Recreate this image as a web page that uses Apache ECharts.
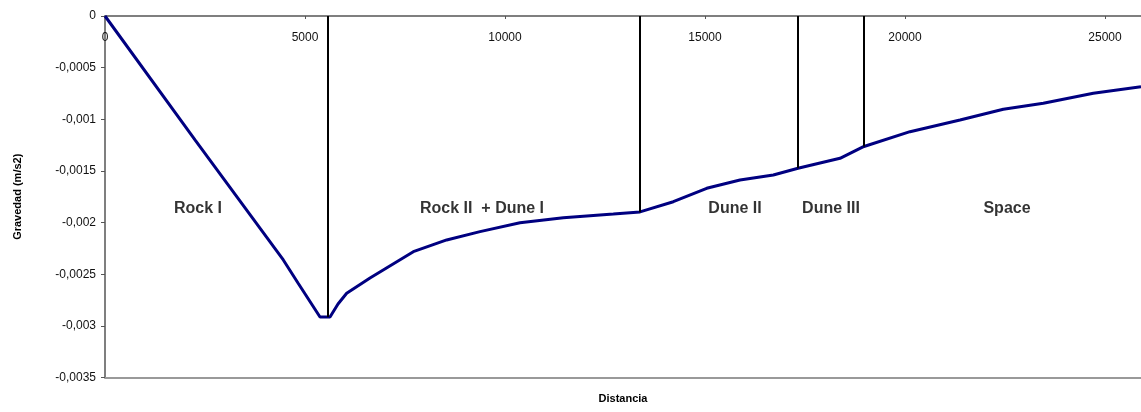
<!DOCTYPE html>
<html>
<head>
<meta charset="utf-8">
<script src="https://cdn.jsdelivr.net/npm/echarts@6/dist/echarts.min.js"></script>
<style>
  html, body { margin: 0; padding: 0; background: #fff; }
  #chart { width: 1141px; height: 412px; }
</style>
</head>
<body>
<div id="chart"></div>
<script>
// profile
const distX = [0, 2250, 4458, 4825, 5375, 5625, 5825, 6042, 6625, 7708, 8542, 9375, 10375, 11458, 12708, 13375,
  14208, 15042, 15875, 16708, 17325, 18375, 18975, 20125, 21375, 22458, 23458, 24708, 25900];
const gravY = [0, -0.0012, -0.002362, -0.002585, -0.002914, -0.002914, -0.002788, -0.002684, -0.002536, -0.002282,
  -0.002168, -0.002088, -0.002001, -0.001953, -0.001917, -0.001897, -0.001798, -0.001668, -0.001588, -0.001539,
  -0.001474, -0.001378, -0.001263, -0.00112, -0.001007, -0.000903, -0.000845, -0.000748, -0.000684];

// zone boundaries (vertical lines from top down to the curve)
const boundX = [5560, 13375, 17325, 18975];
const boundY = [-0.002914, -0.0019, -0.001474, -0.001263];

// zone names
const zoneNames = ['Rock I', 'Rock II  + Dune I', 'Dune II', 'Dune III', 'Space'];
const zoneX = [2325, 9425, 15750, 18150, 22550];
const zoneY = -0.00186;

const chart = echarts.init(document.getElementById('chart'), null, { renderer: 'canvas' });

const fmt = v => String(v).replace('.', ',');
const font = 'Liberation Sans, Arial';

chart.setOption({
  backgroundColor: '#fff',
  animation: false,
  grid: { left: 105, top: 16, right: 0, bottom: 34.5 },
  xAxis: [
    {
      type: 'value',
      position: 'top',
      min: 0,
      max: 25900,
      interval: 5000,
      axisLine: { lineStyle: { color: '#555', width: 1.5 } },
      axisTick: { inside: true, length: 3, lineStyle: { color: '#555' } },
      axisLabel: { inside: true, margin: 16, color: '#111', fontFamily: font, fontSize: 12,
        showMaxLabel: false, formatter: v => String(v) },
      splitLine: { show: false }
    },
    {
      type: 'value',
      position: 'bottom',
      min: 0,
      max: 25900,
      name: 'Distancia',
      nameLocation: 'middle',
      nameGap: 16,
      nameTextStyle: { color: '#000', fontWeight: 'bold', fontSize: 11, fontFamily: font },
      axisLine: { lineStyle: { color: '#999', width: 2 } },
      axisTick: { show: false },
      axisLabel: { show: false },
      splitLine: { show: false }
    }
  ],
  yAxis: {
    type: 'value',
    min: -0.0035,
    max: 0,
    interval: 0.0005,
    name: 'Gravedad (m/s2)',
    nameLocation: 'middle',
    nameGap: 82,
    nameTextStyle: { color: '#000', fontWeight: 'bold', fontSize: 11, fontFamily: font },
    axisLine: { show: true, lineStyle: { color: '#555', width: 1.5 } },
    axisTick: { show: true, length: 4, lineStyle: { color: '#555' } },
    axisLabel: { color: '#111', fontSize: 12, fontFamily: font, margin: 9, formatter: fmt },
    splitLine: { show: false }
  },
  series: [
    {
      type: 'line',
      data: distX.map((x, i) => [x, gravY[i]]),
      showSymbol: false,
      lineStyle: { color: '#000080', width: 3 },
      z: 3,
      markLine: {
        silent: true,
        symbol: 'none',
        label: { show: false },
        lineStyle: { color: '#000', width: 2, type: 'solid' },
        data: boundX.map((x, i) => [{ coord: [x, 0] }, { coord: [x, boundY[i]] }])
      }
    },
    {
      type: 'scatter',
      silent: true,
      symbolSize: 1,
      itemStyle: { color: 'rgba(0,0,0,0)' },
      data: zoneNames.map((n, i) => ({ name: n, value: [zoneX[i], zoneY] })),
      label: {
        show: true,
        position: 'inside',
        formatter: p => p.name,
        color: '#000',
        fontSize: 16,
        fontWeight: 'bold',
        fontFamily: font
      },
      z: 4
    }
  ]
});
</script>
</body>
</html>
